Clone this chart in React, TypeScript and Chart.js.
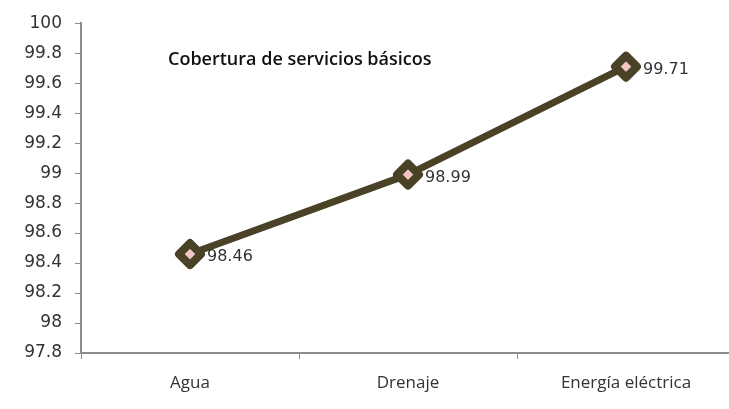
import React, { useEffect, useRef } from "react";
import { Chart, registerables } from "chart.js";

Chart.register(...registerables);

const categories = ["Agua", "Drenaje", "Energía eléctrica"];
const values = [98.46, 98.99, 99.71];
const yMin = 97.8;
const yMax = 100;
const yStep = 0.2;
const title = "Cobertura de servicios básicos";

const axisColor = "#8c8c8c";
const textColor = "#333333";
const lineColor = "#4a4226";

const labelsPlugin = {
  id: "customLabels",
  beforeDatasetsDraw(chart: any) {
    chart.ctx.lineJoin = "round";
  },
  afterDatasetsDraw(chart: any) {
    const ctx = chart.ctx;
    const meta = chart.getDatasetMeta(0);
    ctx.save();
    ctx.fillStyle = textColor;
    ctx.font = "16px 'DejaVu Sans'";
    ctx.textAlign = "left";
    ctx.textBaseline = "middle";
    meta.data.forEach((pt: any, i: number) => {
      ctx.fillText(values[i].toFixed(2), pt.x + 17, pt.y + 3);
    });
    const area = chart.chartArea;
    ctx.font = "600 18px 'Open Sans'";
    ctx.fillStyle = "#111";
    ctx.fillText(title, area.left + 87, area.top + 37);
    ctx.restore();
  },
};

export default function App() {
  const ref = useRef<HTMLCanvasElement>(null);
  useEffect(() => {
    if (!ref.current) return;
    const chart = new Chart(ref.current, {
      type: "line",
      data: {
        labels: categories,
        datasets: [
          {
            data: values,
            borderColor: lineColor,
            borderWidth: 7,
            borderJoinStyle: "round",
            pointStyle: "rectRot",
            pointRadius: 11,
            pointBackgroundColor: "#f2c4c4",
            pointBorderColor: lineColor,
            pointBorderWidth: 8,
            tension: 0,
          },
        ],
      },
      options: {
        animation: false,
        responsive: false,
        maintainAspectRatio: false,
        layout: { autoPadding: false, padding: { top: 20, right: 0, bottom: 0, left: 0 } },
        plugins: { legend: { display: false }, tooltip: { enabled: false }, title: { display: false } },
        scales: {
          x: {
            type: "category",
            offset: true,
            grid: {
              offset: true,
              drawOnChartArea: false,
              drawTicks: true,
              tickLength: 6,
              color: axisColor,
              tickColor: axisColor,
            },
            border: { color: axisColor, width: 2 },
            ticks: {
              color: textColor,
              font: { family: "'Open Sans'", size: 17 },
              padding: 14,
              maxRotation: 0,
            },
            afterFit: (s: any) => {
              s.height = 56;
            },
          },
          y: {
            min: yMin,
            max: yMax,
            grid: {
              drawOnChartArea: false,
              drawTicks: true,
              tickLength: 6,
              color: axisColor,
              tickColor: axisColor,
            },
            border: { color: axisColor, width: 2 },
            ticks: {
              stepSize: yStep,
              color: textColor,
              font: { family: "'DejaVu Sans'", size: 17 },
              padding: 13,
              callback: (v: any) => String(Math.round(Number(v) * 10) / 10),
            },
            afterFit: (s: any) => {
              s.width = 81;
            },
          },
        },
      },
      plugins: [labelsPlugin],
    });
    return () => chart.destroy();
  }, []);
  return (
    <div style={{ position: "fixed", left: 0, top: 0, width: 735, height: 409, background: "#fff" }}>
      <canvas ref={ref} width={735} height={409} style={{ display: "block" }} />
    </div>
  );
}
